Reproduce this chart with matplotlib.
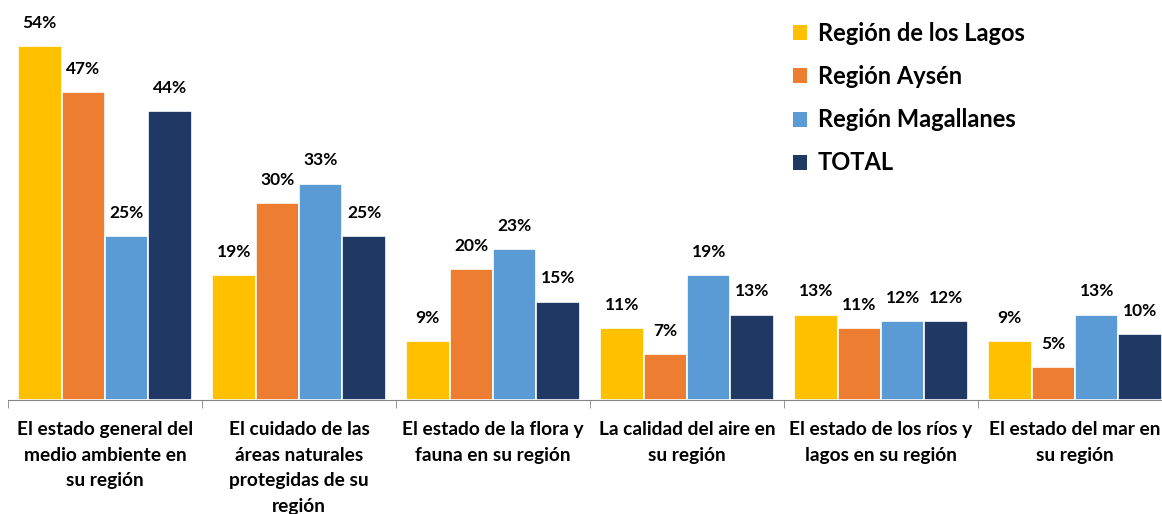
import matplotlib.pyplot as plt
import numpy as np
from matplotlib.patches import Patch

plt.rcParams['font.family'] = ['Lato', 'DejaVu Sans']

categories = ['El estado general del\nmedio ambiente en\nsu región',
              'El cuidado de las\náreas naturales\nprotegidas de su\nregión',
              'El estado de la flora y\nfauna en su región',
              'La calidad del aire en\nsu región',
              'El estado de los ríos y\nlagos en su región',
              'El estado del mar en\nsu región']
series = ['Región de los Lagos', 'Región Aysén', 'Región Magallanes', 'TOTAL']
lagos = [54, 19, 9, 11, 13, 9]
aysen = [47, 30, 20, 7, 11, 5]
magallanes = [25, 33, 23, 19, 12, 13]
total = [44, 25, 15, 13, 12, 10]
colors = ['#FFC000', '#ED7D31', '#5B9BD5', '#203864']

fig = plt.figure(figsize=(11.62, 5.14), dpi=100)
ax = fig.add_axes([8 / 1162, 114 / 514, 1164 / 1162, 400 / 514])

x = np.arange(len(categories))
w = 0.224
for i, (vals, c) in enumerate(zip([lagos, aysen, magallanes, total], colors)):
    pos = x + (i - 1.5) * w
    bars = ax.bar(pos, vals, width=w, color=c, edgecolor='white', linewidth=1.2)
    for b, v in zip(bars, vals):
        ax.annotate(f'{v}%', (b.get_x() + b.get_width() / 2, v), xytext=(0, 11),
                    textcoords='offset points', ha='center', va='bottom',
                    fontsize=12.5, fontweight='bold')

ax.set_xlim(-0.5, len(categories) - 0.5)
ax.set_ylim(0, 61)
for s in ['top', 'right', 'left']:
    ax.spines[s].set_visible(False)
ax.spines['bottom'].set_color('#868686')
ax.set_yticks([])
ax.set_xticks(x)
ax.set_xticklabels(categories, fontsize=13.8, fontweight='bold', linespacing=1.62, va='top')
ax.tick_params(axis='x', which='major', length=0, pad=15)
ax.set_xticks(np.arange(len(categories) + 1) - 0.5, minor=True)
ax.tick_params(axis='x', which='minor', length=6, color='#868686')

handles = [Patch(facecolor=c, label=s) for c, s in zip(colors, series)]
fig.legend(handles=handles, loc='upper left', bbox_to_anchor=(772 / 1162, 1 - 1 / 514),
           frameon=False, prop={'size': 17, 'weight': 'bold'},
           handlelength=0.6, handleheight=0.6, handletextpad=0.45, labelspacing=0.85)

fig.savefig('out.png', dpi=100)
